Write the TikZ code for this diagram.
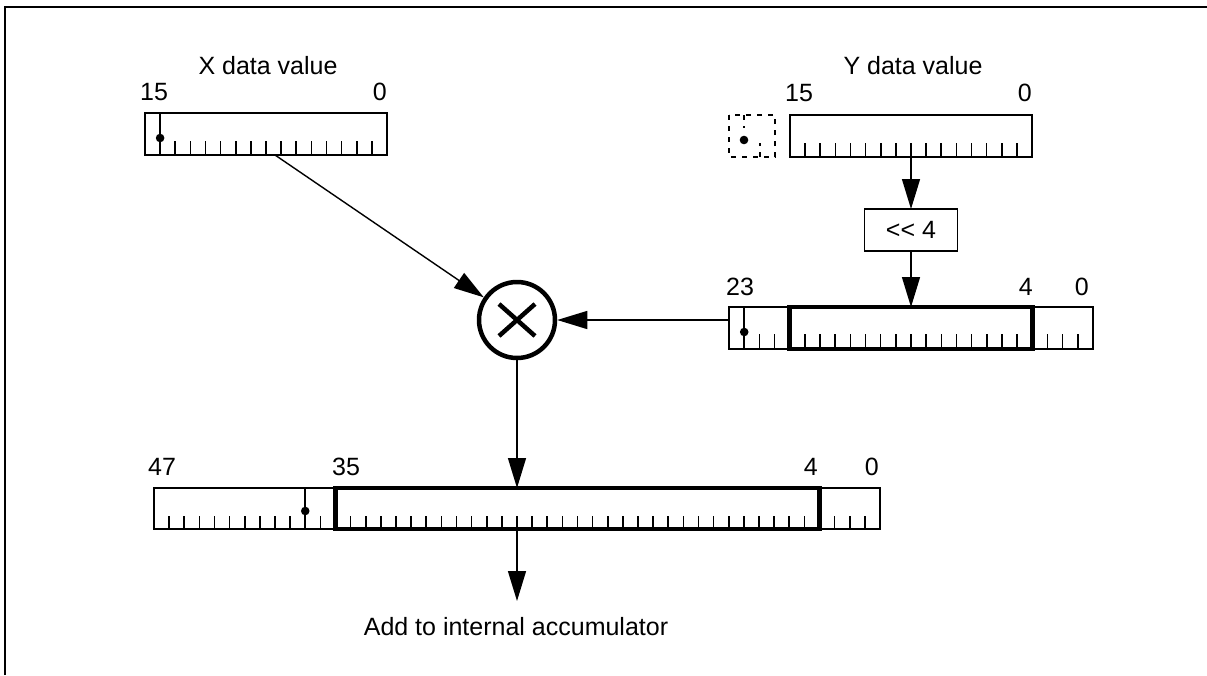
\documentclass[tikz,border=0pt]{standalone}
\usepackage{fontspec}
\setmainfont{Liberation Sans}
\usetikzlibrary{arrows.meta}
\begin{document}
\begin{tikzpicture}[x=1pt,y=-1pt,font=\fontsize{25}{29}\selectfont,
    reg/.style={draw, line width=1.5pt, inner sep=0pt, outer sep=0pt},
    wide/.style={draw, line width=4.5pt},
    tick/.style={line width=1.6pt},
    arr/.style={line width=1.4pt, -{Triangle[length=30pt,width=18pt]}},
    num/.style={inner sep=0pt}]
    \useasboundingbox (0,0) rectangle (1207,675);
    \draw[line width=2pt] (4.5,675) -- (4.5,7) -- (1207,7);
    % X data value
    \node[num, anchor=base] (xtitle) at (268,74) {X data value};
    \node[num, anchor=base west] (xhi) at (140,100) {15};
    \node[num, anchor=base east] (xlo) at (387,100) {0};
    \node[reg, minimum width=242pt, minimum height=42pt] (xreg) at (266,134) {};
    \draw[tick] (160.1,113) -- (160.1,155);
    \fill (160.1,138) circle (4.3pt);
    \foreach \k in {2,...,15}
        \draw[tick] (145+\k*15.125,155) -- ++(0,-14);
    % Y data value
    \node[num, anchor=base] (ytitle) at (913,74) {Y data value};
    \node[num, anchor=base west] (yhi) at (785,101) {15};
    \node[num, anchor=base east] (ylo) at (1032,101) {0};
    \node[reg, minimum width=242pt, minimum height=42pt] (yreg) at (911,136) {};
    \foreach \k in {1,...,15}
        \draw[tick] (790+\k*15.125,157) -- ++(0,-14);
    \draw[tick, dash pattern=on 5pt off 6pt] (729,115) rectangle (775,157);
    \draw[tick, dash pattern=on 5pt off 6pt] (744,115) -- (744,128);
    \draw[tick, dash pattern=on 5pt off 6pt] (760,157) -- (760,143);
    \fill (744,140) circle (4.3pt);
    % shift
    \node[reg, minimum width=93pt, minimum height=42pt] (shift) at (911,230) {<{}< 4};
    \draw[arr] (yreg.south) -- (shift.north);
    % 24 bit value
    \node[num, anchor=base west] (rhi) at (726,295) {23};
    \node[num, anchor=base east] (rmid) at (1033,295) {4};
    \node[num, anchor=base east] (rlo) at (1089,295) {0};
    \node[reg, minimum width=364pt, minimum height=42pt] (r24) at (911,328) {};
    \draw[tick] (744.2,307) -- (744.2,349);
    \fill (744.2,332) circle (4.3pt);
    \foreach \k in {2,...,23}
        \draw[tick] (729+\k*15.1667,349) -- ++(0,-15);
    \draw[wide] (789.7,307) rectangle (1032.3,349);
    \draw[arr] (shift.south) -- (shift.south |- r24.north);
    % multiplier
    \node[draw, circle, line width=4.5pt, minimum size=76pt, inner sep=0pt] (mult) at (517,320) {};
    \draw[line width=4.5pt] (mult.center) ++(-18,-16) -- ++(36,32)
        (mult.center) ++(18,-16) -- ++(-36,32);
    \draw[arr] ([xshift=9pt]xreg.south) -- (mult);
    \draw[arr] (mult.east -| r24.west) -- (mult.east);
    % 48 bit value
    \node[num, anchor=base west] (ahi) at (148,475) {47};
    \node[num, anchor=base west] (amid) at (332,475) {35};
    \node[num, anchor=base east] (alow) at (818,475) {4};
    \node[num, anchor=base east] (alo) at (879,475) {0};
    \node[reg, minimum width=726pt, minimum height=41pt] (r48) at (517,508.5) {};
    \draw[tick] (305.25,488) -- (305.25,529);
    \fill (305.25,511) circle (4.3pt);
    \foreach \k in {1,...,47}
        \draw[tick] (154+\k*15.125,529) -- ++(0,-13);
    \draw[wide] (335.5,488) rectangle (819.5,529);
    \draw[arr] (mult.south) -- (mult.south |- r48.north);
    \coordinate (accin) at (517,601);
    \draw[arr] (r48.south) -- (accin);
    \node[num, anchor=base] (acc) at (516,635) {Add to internal accumulator};
\end{tikzpicture}
\end{document}
